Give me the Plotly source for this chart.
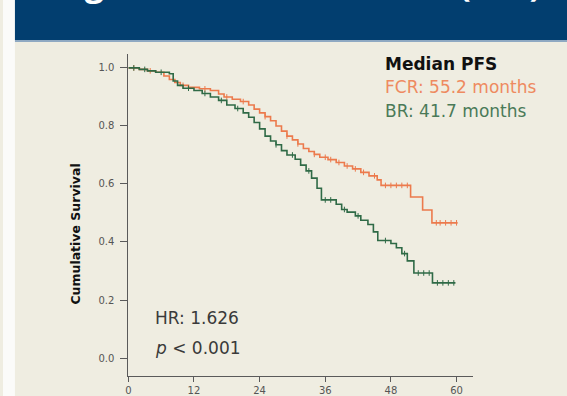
import plotly.graph_objects as go

# Kaplan-Meier step estimates (months, cumulative survival)
fcr_time = [0, 2.0, 3.5, 5.0, 6.5, 7.5, 8.5, 9.5, 11.0, 13.0, 15.0, 16.5, 17.5, 19.0,
            20.5, 22.0, 23.0, 24.0, 25.0, 26.0, 27.0, 28.0, 29.0, 30.0, 31.0, 32.0,
            33.0, 34.0, 35.0, 36.5, 38.0, 39.5, 41.0, 42.5, 44.0, 45.5, 46.2, 51.6,
            53.8, 55.5, 60.2]
fcr_surv = [1.0, 0.995, 0.99, 0.985, 0.972, 0.96, 0.95, 0.94, 0.933, 0.928, 0.922,
            0.91, 0.9, 0.892, 0.884, 0.872, 0.858, 0.845, 0.832, 0.818, 0.8, 0.782,
            0.765, 0.752, 0.738, 0.722, 0.712, 0.702, 0.692, 0.684, 0.674, 0.662,
            0.652, 0.64, 0.628, 0.614, 0.595, 0.555, 0.51, 0.466, 0.466]
fcr_censor = [1, 4, 10, 14, 18, 21, 25, 29, 31, 34, 36, 37, 38.5, 40, 41.5, 43, 45,
              47, 48, 49, 50, 51, 56.3, 57, 58, 59, 60]

br_time = [0, 2.0, 3.5, 5.0, 7.5, 8.2, 9.0, 10.0, 12.0, 13.5, 15.0, 16.5, 18.0, 19.5,
           21.0, 22.0, 23.0, 24.0, 25.0, 26.0, 27.0, 28.0, 29.0, 30.5, 31.5, 32.5,
           33.5, 34.5, 35.3, 38.0, 39.0, 40.0, 41.5, 42.5, 43.8, 44.8, 45.6, 48.0,
           49.0, 50.0, 51.0, 52.2, 55.6, 59.8]
br_surv = [1.0, 0.995, 0.99, 0.985, 0.98, 0.955, 0.94, 0.93, 0.922, 0.912, 0.9,
           0.888, 0.872, 0.86, 0.845, 0.83, 0.812, 0.79, 0.765, 0.748, 0.735, 0.715,
           0.7, 0.685, 0.665, 0.645, 0.62, 0.585, 0.545, 0.53, 0.512, 0.503, 0.49,
           0.475, 0.46, 0.435, 0.405, 0.395, 0.38, 0.36, 0.335, 0.293, 0.259, 0.259]
br_censor = [1, 3, 6, 11, 14, 17, 20, 27, 30, 33, 36, 37, 39.5, 42, 47, 50.5, 53,
             54, 55, 56.5, 57.5, 58.5, 59.5]

x_ticks = [0, 12, 24, 36, 48, 60]
y_ticks = [0.0, 0.2, 0.4, 0.6, 0.8, 1.0]

ORANGE = "#ec7a4c"
GREEN = "#2f6a46"
AXIS = "#5a5a5a"
FONT = "DejaVu Sans"


def step_value(times, surv, t):
    val = surv[0]
    for tt, s in zip(times, surv):
        if tt <= t:
            val = s
        else:
            break
    return val


fig = go.Figure()

for times, surv, cens, color in [(fcr_time, fcr_surv, fcr_censor, ORANGE),
                                 (br_time, br_surv, br_censor, GREEN)]:
    fig.add_trace(go.Scatter(x=times, y=surv, mode="lines",
                             line=dict(color=color, width=1.6, shape="hv"),
                             hoverinfo="skip", showlegend=False))
    fig.add_trace(go.Scatter(x=cens, y=[step_value(times, surv, c) for c in cens],
                             mode="markers",
                             marker=dict(symbol="line-ns", size=4,
                                         line=dict(color=color, width=1)),
                             hoverinfo="skip", showlegend=False))

W, H = 567, 396


def px(x):
    return x / W


def py(y):
    return 1 - y / H


shapes = [
    # slide background, header band and separator
    dict(type="rect", xref="paper", yref="paper", x0=0, x1=1, y0=0, y1=1,
         fillcolor="#fbfbf9", line_width=0, layer="below"),
    dict(type="rect", xref="paper", yref="paper", x0=px(12), x1=1, y0=0, y1=py(42),
         fillcolor="#efede1", line_width=0, layer="below"),
    dict(type="rect", xref="paper", yref="paper", x0=px(12), x1=1, y0=py(40), y1=1,
         fillcolor="#023e6f", line_width=0, layer="below"),
    dict(type="rect", xref="paper", yref="paper", x0=px(12), x1=1, y0=py(42), y1=py(40),
         fillcolor="#8fa9c2", line_width=0, layer="below"),
]

annotations = [
    dict(text="<b>Progression-free survival (PFS)</b>", xref="paper", yref="paper",
         x=px(543), y=py(-17), xanchor="right", yanchor="middle", showarrow=False,
         font=dict(family="Open Sans", size=34, color="white")),
    dict(text="<b>Cumulative Survival</b>", xref="paper", yref="paper",
         x=px(72), y=py(234), xanchor="center", yanchor="middle", textangle=-90,
         showarrow=False, font=dict(family=FONT, size=12.5, color="#111111")),
    dict(text="<b>Median PFS</b>", xref="paper", yref="paper", x=px(382), y=py(64),
         xanchor="left", yanchor="middle", showarrow=False,
         font=dict(family=FONT, size=17, color="#111111")),
    dict(text="FCR: 55.2 months", xref="paper", yref="paper", x=px(382), y=py(87),
         xanchor="left", yanchor="middle", showarrow=False,
         font=dict(family=FONT, size=17, color="#ee8a60")),
    dict(text="BR: 41.7 months", xref="paper", yref="paper", x=px(382), y=py(111),
         xanchor="left", yanchor="middle", showarrow=False,
         font=dict(family=FONT, size=17, color="#4a7a58")),
    dict(text="HR: 1.626", xref="paper", yref="paper", x=px(151), y=py(318),
         xanchor="left", yanchor="middle", showarrow=False,
         font=dict(family=FONT, size=17, color="#3a3a3a")),
    dict(text="<i>p</i> &lt; 0.001", xref="paper", yref="paper", x=px(151), y=py(348),
         xanchor="left", yanchor="middle", showarrow=False,
         font=dict(family=FONT, size=17, color="#3a3a3a")),
]

fig.update_layout(
    width=W, height=H,
    margin=dict(l=0, r=0, t=0, b=0),
    paper_bgcolor="#efede1", plot_bgcolor="rgba(0,0,0,0)",
    shapes=shapes, annotations=annotations,
    xaxis=dict(domain=[px(126), px(473)], range=[0, 63.1],
               tickvals=x_ticks, ticktext=[str(v) for v in x_ticks],
               ticks="outside", ticklen=5, tickcolor=AXIS, tickwidth=1,
               showline=True, linecolor=AXIS, linewidth=1,
               showgrid=False, zeroline=False,
               tickfont=dict(family=FONT, size=10, color="#555555")),
    yaxis=dict(domain=[py(376), py(54)], range=[-0.062, 1.048],
               tickvals=y_ticks, ticktext=[f"{v:.1f}" for v in y_ticks],
               ticks="outside", ticklen=7, tickcolor=AXIS, tickwidth=1,
               ticklabelstandoff=4,
               showline=True, linecolor=AXIS, linewidth=1,
               showgrid=False, zeroline=False,
               tickfont=dict(family=FONT, size=10, color="#555555")),
)

fig.write_html("out.html")
